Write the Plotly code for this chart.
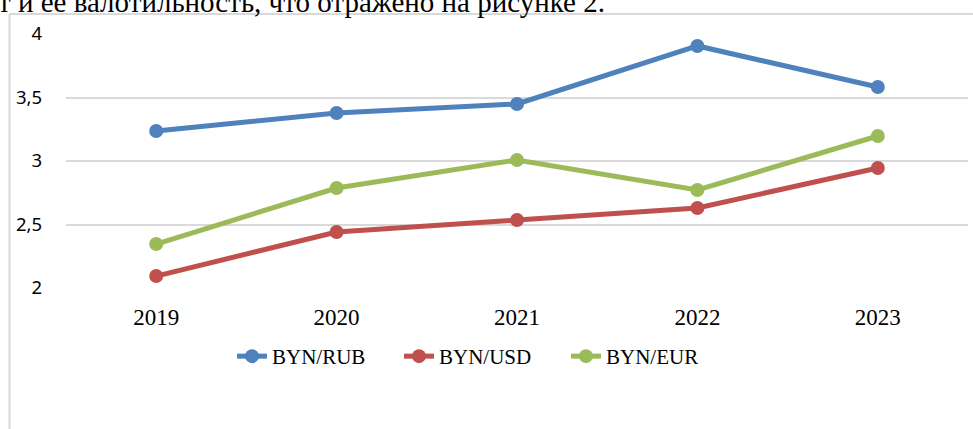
import plotly.graph_objects as go

years = ["2019", "2020", "2021", "2022", "2023"]
byn_rub = [3.236, 3.378, 3.449, 3.906, 3.583]
byn_usd = [2.094, 2.441, 2.535, 2.630, 2.945]
byn_eur = [2.346, 2.787, 3.008, 2.772, 3.197]
series_names = ["BYN/RUB", "BYN/USD", "BYN/EUR"]
colors = ["#4F81BD", "#C0504D", "#9BBB59"]
y_ticks = [2, 2.5, 3, 3.5, 4]
y_tick_text = ["2", "2,5", "3", "3,5", "4"]
caption = "т и ее валотильность, что отражено на рисунке 2."

W, H = 973, 429
L, R, T, B = 66, 5, 34, 141
pw, ph = W - L - R, H - T - B

def px_x(p):
    return (p - L) / pw

def px_y(p):
    return (H - B - p) / ph

fig = go.Figure()
for name, vals, c in zip(series_names, [byn_rub, byn_usd, byn_eur], colors):
    fig.add_trace(go.Scatter(
        x=years, y=vals, name=name, mode="lines+markers",
        line=dict(color=c, width=5),
        marker=dict(color=c, size=14),
    ))

fig.update_layout(
    width=W, height=H,
    margin=dict(l=L, r=R, t=T, b=B),
    paper_bgcolor="white", plot_bgcolor="white",
    showlegend=True,
    legend=dict(
        orientation="h", x=px_x(232), xanchor="left", y=px_y(336), yanchor="top",
        font=dict(family="Liberation Serif", size=21, color="#000000"),
        entrywidth=122, traceorder="normal",
    ),
    xaxis=dict(
        type="category", range=[-0.5, 4.5], showgrid=False, zeroline=False,
        showline=False, ticks="", ticklabelstandoff=13,
        tickfont=dict(family="Liberation Serif", size=23, color="#000000"),
    ),
    yaxis=dict(
        range=[2, 4], tickvals=y_ticks, ticktext=y_tick_text,
        showgrid=True, gridcolor="#D9D9D9", gridwidth=1.5, zeroline=False,
        showline=False, ticks="", ticklabelstandoff=23,
        tickfont=dict(family="Noto Sans", size=18.5, color="#000000"),
    ),
    shapes=[
        dict(type="line", xref="paper", yref="paper",
             x0=px_x(9.5), x1=px_x(9.5), y0=px_y(14), y1=px_y(440),
             line=dict(color="#D9D9D9", width=2)),
        dict(type="line", xref="paper", yref="paper",
             x0=px_x(9.5), x1=px_x(990), y0=px_y(14), y1=px_y(14),
             line=dict(color="#D9D9D9", width=2)),
    ],
    annotations=[
        dict(text=caption, xref="paper", yref="paper", x=px_x(-3), y=px_y(19),
             xanchor="left", yanchor="bottom", showarrow=False, borderpad=0,
             font=dict(family="Liberation Serif", size=29, color="#000000")),
    ],
)

fig.write_html("out.html", config={"displayModeBar": False},
               post_script="document.body.style.margin='0';")
